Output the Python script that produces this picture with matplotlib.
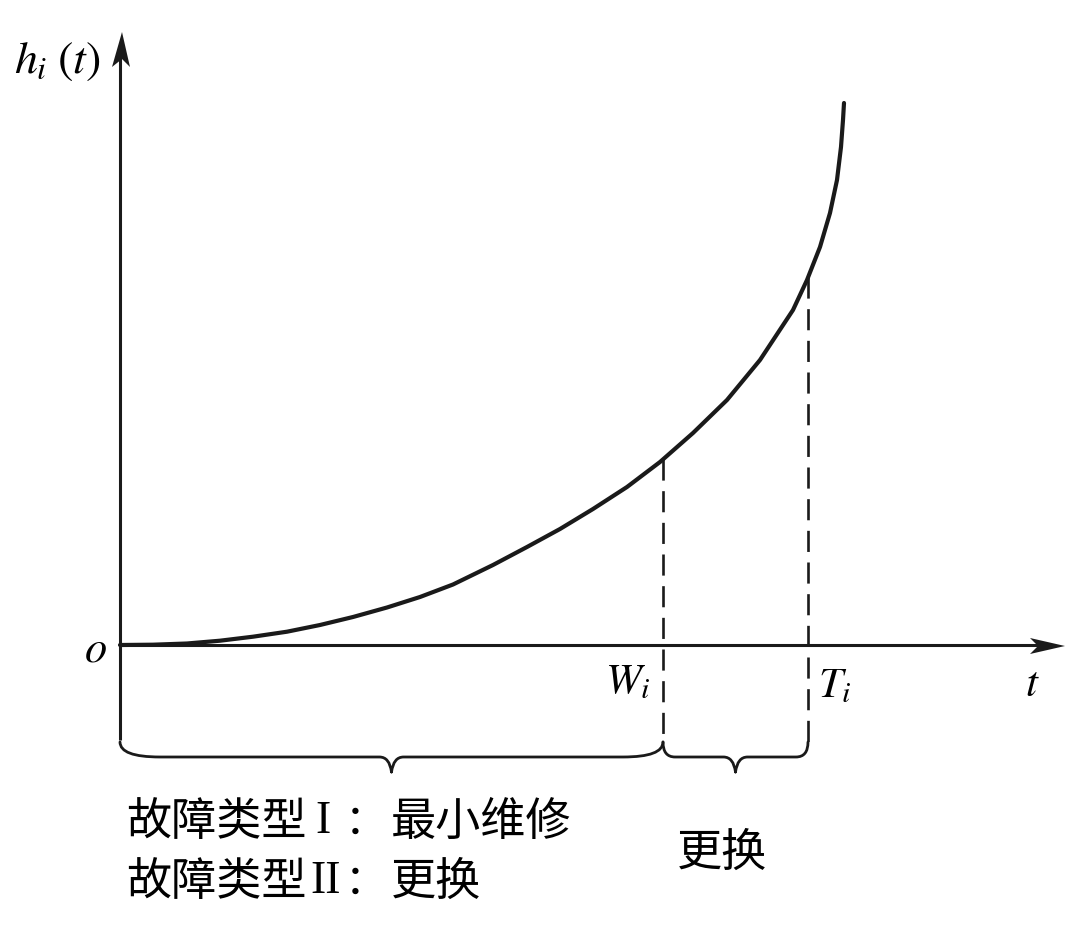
import numpy as np
import matplotlib.pyplot as plt
from matplotlib.path import Path
from matplotlib.patches import PathPatch, Polygon

plt.rcParams['font.family'] = ['Noto Sans CJK SC', 'DejaVu Sans']
plt.rcParams['mathtext.fontset'] = 'stix'

# curve h_i(t) (1 unit = 100 px)
t_vals = [0, 0.33, 0.67, 1.0, 1.33, 1.67, 2.0, 2.33, 2.67, 3.0, 3.33, 3.73, 4.07,
          4.4, 4.73, 5.07, 5.4, 5.73, 6.07, 6.4, 6.73, 6.87, 7.0, 7.1, 7.17,
          7.21, 7.23, 7.24]
h_vals = [0, 0.003, 0.015, 0.043, 0.083, 0.133, 0.2, 0.28, 0.375, 0.48, 0.605, 0.8,
          0.98, 1.16, 1.36, 1.58, 1.83, 2.12, 2.45, 2.85, 3.35, 3.65, 3.98, 4.32,
          4.65, 4.98, 5.25, 5.42]

# marked times
W_i = 5.43
T_i = 6.88
type_names = ["故障类型", "故障类型"]
type_numerals = ["I", "II"]
type_actions = ["最小维修", "更换"]
label_right = "更换"


def h_at(t):
    return np.interp(t, t_vals, h_vals)


def brace(ax, x0, x1, y, depth=0.15, tip=0.15, r=0.3):
    # curly brace opening upward, tip pointing down
    xm = (x0 + x1) / 2
    yb = y - depth
    verts = [
        (x0, y), (x0, yb), (x0 + r, yb),
        (xm - 0.12, yb),
        (xm - 0.02, yb), (xm, yb - tip),
        (xm, yb - tip), (xm + 0.02, yb), (xm + 0.12, yb),
        (x1 - r, yb),
        (x1, yb), (x1, y),
    ]
    codes = [Path.MOVETO, Path.CURVE3, Path.CURVE3,
             Path.LINETO,
             Path.CURVE3, Path.CURVE3,
             Path.MOVETO, Path.CURVE3, Path.CURVE3,
             Path.LINETO,
             Path.CURVE3, Path.CURVE3]
    ax.add_patch(PathPatch(Path(verts, codes), fill=False, lw=2.0, color="#1a1a1a",
                           capstyle='round', joinstyle='round'))


fig = plt.figure(figsize=(10.8, 9.34), dpi=100)
ax = fig.add_axes([0, 0, 1, 1])
ax.set_xlim(-1.2, 9.6)
ax.set_ylim(-2.89, 6.45)
ax.set_aspect('equal')
ax.axis('off')

k = "#1a1a1a"

# axes lines
ax.plot([0, 0], [-0.95, 6.0], color=k, lw=2.2, solid_capstyle='butt')
ax.plot([0, 9.2], [0, 0], color=k, lw=2.2, solid_capstyle='butt')
# arrow heads
ax.add_patch(Polygon([(0.02, 6.13), (-0.08, 5.78), (0.02, 5.86), (0.10, 5.78)],
                     closed=True, color=k, lw=0))
ax.add_patch(Polygon([(9.45, -0.01), (9.10, 0.07), (9.18, -0.01), (9.10, -0.09)],
                     closed=True, color=k, lw=0))

# curve
ax.plot(t_vals, h_vals, color=k, lw=3.0, solid_capstyle='round',
        solid_joinstyle='round')

# dashed verticals
for xv, ybot in [(W_i, -0.97), (T_i, -0.98)]:
    ax.plot([xv, xv], [h_at(xv), ybot], color=k, lw=1.9,
            linestyle=(0, (8, 4)))

# braces
brace(ax, 0, W_i, -0.97, depth=0.15, tip=0.15, r=0.4)
brace(ax, W_i, T_i, -0.97, depth=0.15, tip=0.15, r=0.12)

# math labels
ax.text(-0.63, 5.85, r'$h_i\;(t)$', fontsize=33, ha='center', va='center')
ax.text(-0.25, -0.04, r'$o$', fontsize=32, ha='center', va='center')
ax.text(W_i - 0.35, -0.36, r'$W_i$', fontsize=31, ha='center', va='center')
ax.text(T_i + 0.27, -0.40, r'$T_i$', fontsize=31, ha='center', va='center')
ax.text(9.12, -0.39, r'$t$', fontsize=31, ha='center', va='center')

# Chinese labels
rows_y = [-1.77, -2.37]
numeral_x = [2.03, 2.06]
for name, num, act, yy, nx in zip(type_names, type_numerals, type_actions,
                                  rows_y, numeral_x):
    ax.text(0.06, yy, name, fontsize=32.5, ha='left', va='center')
    ax.text(nx, yy, num, fontsize=33, ha='center', va='center',
            family='Liberation Serif')
    ax.text(2.46, yy, "：", fontsize=30, ha='center', va='center')
    ax.text(2.71, yy, act, fontsize=32.5, ha='left', va='center')
ax.text(6.02, -2.08, label_right, fontsize=32.5, ha='center', va='center')

fig.savefig("out.png", dpi=100)
